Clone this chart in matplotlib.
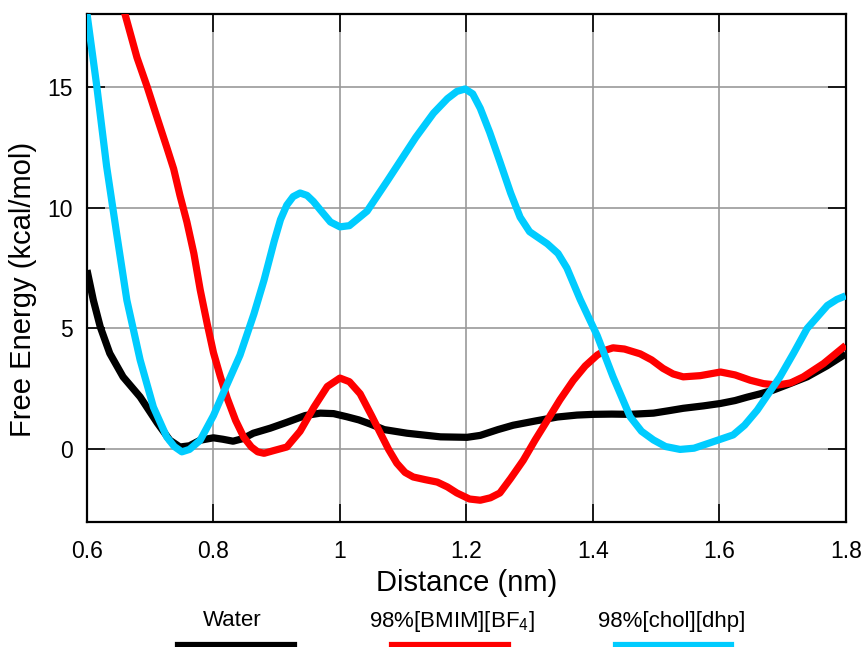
import matplotlib
matplotlib.use("Agg")
import matplotlib.pyplot as plt
from matplotlib.lines import Line2D

plt.rcParams['font.family'] = ['Liberation Sans', 'DejaVu Sans']
plt.rcParams['mathtext.fontset'] = 'custom'
plt.rcParams['mathtext.rm'] = 'Liberation Sans'
plt.rcParams['mathtext.it'] = 'Liberation Sans'

# free energy profiles, distance in nm, energy in kcal/mol
water_x = [0.600, 0.610, 0.621, 0.636, 0.657, 0.684, 0.711, 0.731, 0.747, 0.762,
           0.779, 0.800, 0.815, 0.831, 0.847, 0.863, 0.890, 0.916, 0.945, 0.969,
           0.990, 1.011, 1.030, 1.048, 1.070, 1.106, 1.159, 1.201, 1.222, 1.250,
           1.274, 1.310, 1.344, 1.375, 1.401, 1.430, 1.459, 1.496, 1.520, 1.543,
           1.575, 1.602, 1.625, 1.644, 1.665, 1.685, 1.710, 1.739, 1.770, 1.800]
water_y = [7.41, 6.17, 5.06, 3.97, 3.0, 2.17, 1.1, 0.38, 0.1, 0.15,
           0.38, 0.48, 0.42, 0.34, 0.45, 0.67, 0.88, 1.12, 1.4, 1.5,
           1.48, 1.35, 1.22, 1.05, 0.82, 0.67, 0.52, 0.5, 0.58, 0.82,
           1.0, 1.18, 1.34, 1.42, 1.45, 1.46, 1.45, 1.5, 1.6, 1.7,
           1.8, 1.9, 2.02, 2.16, 2.3, 2.45, 2.7, 3.0, 3.45, 3.95]

bmim_x = [0.652, 0.660, 0.679, 0.695, 0.711, 0.726, 0.737, 0.747, 0.758, 0.769,
          0.779, 0.790, 0.800, 0.811, 0.822, 0.835, 0.848, 0.860, 0.870, 0.880,
          0.895, 0.916, 0.937, 0.959, 0.980, 1.000, 1.015, 1.032, 1.050, 1.064,
          1.077, 1.090, 1.103, 1.116, 1.135, 1.154, 1.170, 1.185, 1.205, 1.222,
          1.238, 1.253, 1.270, 1.290, 1.309, 1.328, 1.348, 1.369, 1.388, 1.407,
          1.420, 1.432, 1.450, 1.475, 1.493, 1.511, 1.527, 1.543, 1.570, 1.602,
          1.625, 1.649, 1.670, 1.692, 1.713, 1.733, 1.765, 1.800]
bmim_y = [18.8, 18.0, 16.2, 15.0, 13.7, 12.5, 11.6, 10.5, 9.4, 8.1,
          6.6, 5.2, 4.0, 3.0, 2.1, 1.2, 0.5, 0.1, -0.1, -0.16,
          -0.05, 0.1, 0.75, 1.75, 2.6, 2.95, 2.8, 2.3, 1.4, 0.67,
          0.0, -0.57, -0.95, -1.14, -1.25, -1.35, -1.55, -1.8, -2.05, -2.1,
          -2.0, -1.8, -1.2, -0.45, 0.4, 1.2, 2.05, 2.85, 3.45, 3.9,
          4.1, 4.2, 4.15, 3.95, 3.7, 3.35, 3.12, 3.0, 3.05, 3.2,
          3.08, 2.86, 2.72, 2.66, 2.75, 3.0, 3.55, 4.3]

chol_x = [0.598, 0.600, 0.615, 0.631, 0.647, 0.663, 0.684, 0.705, 0.726, 0.738,
          0.750, 0.762, 0.779, 0.800, 0.820, 0.842, 0.864, 0.880, 0.896, 0.906,
          0.916, 0.926, 0.937, 0.948, 0.958, 0.969, 0.985, 1.000, 1.015, 1.043,
          1.075, 1.095, 1.120, 1.148, 1.170, 1.185, 1.198, 1.210, 1.222, 1.237,
          1.253, 1.270, 1.285, 1.300, 1.328, 1.345, 1.359, 1.380, 1.407, 1.432,
          1.459, 1.477, 1.496, 1.515, 1.538, 1.560, 1.585, 1.622, 1.640, 1.660,
          1.696, 1.718, 1.739, 1.771, 1.786, 1.800]
chol_y = [18.3, 18.0, 15.1, 11.7, 8.9, 6.17, 3.7, 1.75, 0.52, 0.12,
          -0.1, 0.0, 0.38, 1.4, 2.6, 3.9, 5.6, 7.0, 8.6, 9.5,
          10.1, 10.45, 10.6, 10.5, 10.25, 9.9, 9.4, 9.2, 9.25, 9.85,
          11.1, 11.9, 12.9, 13.9, 14.5, 14.8, 14.9, 14.7, 14.1, 13.1,
          11.9, 10.6, 9.6, 9.0, 8.5, 8.1, 7.5, 6.2, 4.7, 3.0,
          1.35, 0.75, 0.39, 0.12, 0.0, 0.05, 0.27, 0.6, 1.0, 1.62,
          3.0, 4.0, 5.0, 5.95, 6.2, 6.35]

labels = ['Water', r'98%[BMIM][BF$_{4}$]', '98%[chol][dhp]']
colors = ['#000000', '#ff0000', '#00ccff']

fig = plt.figure(figsize=(8.65, 6.47), dpi=100)
ax = fig.add_axes([0.1006, 0.1932, 0.8771, 0.7852])

for xs, ys, c in [(water_x, water_y, colors[0]),
                  (bmim_x, bmim_y, colors[1]),
                  (chol_x, chol_y, colors[2])]:
    ax.plot(xs, ys, color=c, lw=5.2, solid_joinstyle='round',
            solid_capstyle='butt', zorder=3)

ax.set_xlim(0.6, 1.8)
ax.set_ylim(-3, 18)
ax.set_xticks([0.6, 0.8, 1.0, 1.2, 1.4, 1.6, 1.8])
ax.set_xticklabels(['0.6', '0.8', '1', '1.2', '1.4', '1.6', '1.8'])
ax.set_yticks([0, 5, 10, 15])
ax.grid(True, color='#999999', lw=1.2, zorder=1)
ax.set_axisbelow(True)
ax.tick_params(direction='in', length=13, width=1.2, labelsize=16.5,
               top=True, right=True)
ax.tick_params(axis='x', pad=13)
ax.tick_params(axis='y', pad=10)
for s in ax.spines.values():
    s.set_linewidth(1.6)

ax.set_xlabel('Distance (nm)', fontsize=21, labelpad=4)
ax.set_ylabel('Free Energy (kcal/mol)', fontsize=21)
ax.yaxis.set_label_coords(-0.066, 0.457)

# legend drawn below the axes: label above a short line segment
W, H = 865.0, 647.0
legend_pos = [(178, 293, 232), (392, 507, 452), (616, 730, 672)]
for (x0, x1, xt), lab, c in zip(legend_pos, labels, colors):
    fig.text(xt / W, 1 - 621 / H, lab, fontsize=16, ha='center', va='center')
    fig.add_artist(Line2D([x0 / W, x1 / W], [1 - 645 / H, 1 - 645 / H],
                          color=c, lw=5.2, transform=fig.transFigure))

fig.savefig('out.png', dpi=100)
